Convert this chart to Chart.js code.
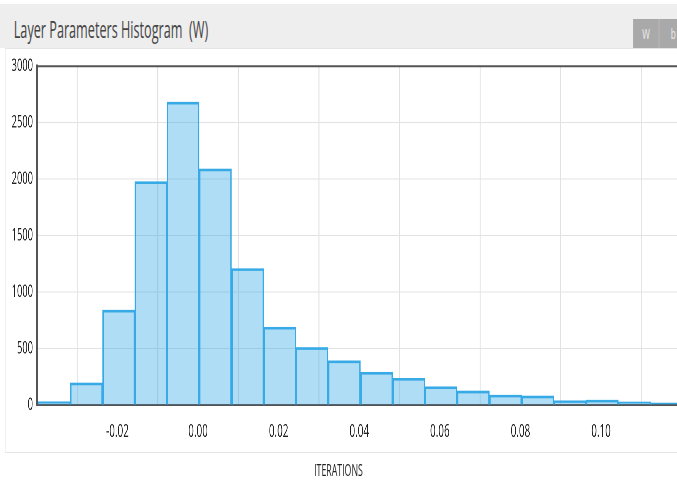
<!DOCTYPE html>
<html>
<head>
<meta charset="utf-8">
<title>Layer Parameters Histogram</title>
<script src="https://cdn.jsdelivr.net/npm/chart.js@4.4.1/dist/chart.umd.min.js"></script>
<style>
  body { margin: 0; background: #fff; overflow: hidden; font-family: 'Open Sans', sans-serif; }
  /* the whole card is drawn wide and squeezed, the reference text is very narrow */
  #stage { position: absolute; left: 0; top: 0; width: 1231px; height: 485px; transform: scaleX(0.55); transform-origin: 0 0; }
  .titlebar { position: absolute; left: 0; top: 4px; width: 1231px; height: 44px; background: #eeeeee; }
  .title { position: absolute; left: 25px; top: 10px; font-size: 23px; line-height: 30px; color: #444; white-space: pre; }
  .btn { position: absolute; top: 15px; height: 29px; background: #a9a9a9; color: #eeeeee; font-size: 15px; line-height: 29px; text-align: center; }
  .panel { position: absolute; left: 9px; top: 48px; width: 1240px; height: 403px; border: 1px solid #e5e5e5; background: #fff; }
  #myChart { position: absolute; left: 0; top: 0; }
  .xtitle { position: absolute; left: 0; top: 460px; width: 1231px; text-align: center; font-size: 16px; line-height: 20px; color: #222; }
</style>
</head>
<body>
<div id="stage">
  <div class="titlebar">
    <div class="title">Layer Parameters Histogram  (W)</div>
    <div class="btn" style="left:1151px;width:47px">W</div>
    <div class="btn" style="left:1198px;width:50px;border-left:1px solid #bdbdbd">b</div>
  </div>
  <div class="panel">
    <canvas id="myChart" width="1222" height="403"></canvas>
  </div>
  <div class="xtitle">ITERATIONS</div>
</div>

<script>
// histogram bins (centres) and counts
const binCenters = [-0.0357, -0.0277, -0.0197, -0.0117, -0.0037, 0.0043, 0.0123, 0.0203, 0.0283, 0.0363,
  0.0443, 0.0523, 0.0603, 0.0683, 0.0763, 0.0843, 0.0923, 0.1003, 0.1083, 0.1163]
const counts = [29, 195, 840, 1978, 2682, 2090, 1208, 689, 509, 391,
  290, 236, 162, 124, 88, 80, 38, 44, 27, 18]
const xTicks = [-0.02, 0.00, 0.02, 0.04, 0.06, 0.08, 0.10]
const yTicks = [0, 500, 1000, 1500, 2000, 2500, 3000]

Chart.defaults.font.family = "'Open Sans', sans-serif"

const topBorder = {
  id: 'topBorder',
  afterDraw(chart) {
    const { ctx, chartArea } = chart
    ctx.save()
    ctx.strokeStyle = '#555'
    ctx.lineWidth = 2
    ctx.beginPath()
    ctx.moveTo(chartArea.left, chartArea.top)
    ctx.lineTo(chartArea.right, chartArea.top)
    ctx.stroke()
    ctx.restore()
  }
}

const ctx = document.getElementById('myChart')
// eslint-disable-next-line no-unused-vars
const myChart = new Chart(ctx, {
  type: 'bar',
  data: {
    datasets: [{
      data: binCenters.map((x, i) => ({ x: x, y: counts[i] })),
      backgroundColor: 'rgba(56, 170, 230, 0.4)',
      borderColor: '#38aae6',
      borderWidth: { top: 2, left: 1.8, right: 1.8, bottom: 0 },
      borderSkipped: false,
      barPercentage: 1,
      categoryPercentage: 1,
      grouped: false
    }]
  },
  plugins: [topBorder],
  options: {
    responsive: false,
    animation: false,
    devicePixelRatio: 2,
    layout: { padding: { top: 16, left: 0, right: 0, bottom: 0 } },
    plugins: {
      legend: { display: false },
      tooltip: { enabled: false }
    },
    scales: {
      x: {
        type: 'linear',
        min: -0.04,
        max: 0.119,
        offset: false,
        afterBuildTicks: (axis) => { axis.ticks = xTicks.map(v => ({ value: v })) },
        afterFit: (axis) => { axis.height = 47 },
        ticks: {
          padding: 16,
          color: '#222',
          font: { size: 18 },
          maxRotation: 0,
          autoSkip: false,
          callback: (v) => Number(v).toFixed(2)
        },
        grid: { color: '#e2e2e2', lineWidth: 1.8, drawTicks: false },
        border: { color: '#555', width: 2 }
      },
      y: {
        min: 0,
        max: 3000,
        afterBuildTicks: (axis) => { axis.ticks = yTicks.map(v => ({ value: v })) },
        afterFit: (axis) => { axis.width = 57 },
        ticks: {
          padding: 7,
          color: '#222',
          font: { size: 17 },
          callback: (v) => String(v)
        },
        grid: { color: '#e2e2e2', lineWidth: 1, drawTicks: false },
        border: { color: '#555', width: 3.6 }
      }
    }
  }
})
</script>
</body>
</html>
